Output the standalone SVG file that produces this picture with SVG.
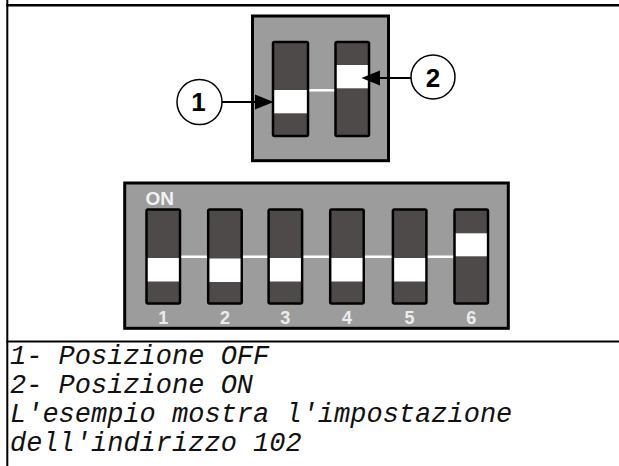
<svg xmlns="http://www.w3.org/2000/svg" width="619" height="466" viewBox="0 0 619 466">
<style>
.frame{stroke:#000;fill:none}
.box{fill:#9c9c9c;stroke:#000;stroke-width:3}
.sw{fill:#4e4a49;stroke:#000;stroke-width:2.5}
.blk{fill:#fff}
.wl{stroke:#fff;stroke-width:2.5}
.num{font-family:"Liberation Sans",Arial,sans-serif;font-weight:bold;font-size:18px;fill:#ececec;text-anchor:middle}
.call{fill:#fff;stroke:#000;stroke-width:1.5}
.ctext{font-family:"Liberation Sans",Arial,sans-serif;font-weight:bold;font-size:26px;fill:#000;text-anchor:middle}
.cap{font-family:"Liberation Mono","Courier New",monospace;font-style:italic;font-size:27px;fill:#111}
.ln{stroke:#000;stroke-width:2}
</style>
<rect width="619" height="466" fill="#fff"/>
<g id="frame">
<line class="frame" x1="7.3" y1="0" x2="7.3" y2="466" stroke-width="2"/>
<line class="frame" x1="6.3" y1="5.3" x2="619" y2="5.3" stroke-width="2.5"/>
<line class="frame" x1="6.3" y1="341.5" x2="619" y2="341.5" stroke-width="2"/>
</g>
<g id="small-switch">
<rect class="box" x="252.5" y="16" width="136" height="144.7"/>
<line class="wl" x1="308" y1="90.3" x2="336" y2="90.3"/>
<rect class="sw" x="273" y="42" width="35" height="94" rx="1.5"/>
<rect class="blk" x="274.3" y="90" width="32.5" height="23.3"/>
<rect class="sw" x="335.5" y="42" width="33.5" height="94" rx="1.5"/>
<rect class="blk" x="336.8" y="65" width="31" height="23.3"/>
</g>
<g id="callout-1">
<circle class="call" cx="199.5" cy="102" r="22.5"/>
<text class="ctext" x="198.5" y="111">1</text>
</g>
<g id="callout-2">
<circle class="call" cx="433" cy="77" r="22"/>
<text class="ctext" x="433" y="86.5">2</text>
</g>
<g id="connectors">
<line class="ln" x1="222" y1="102" x2="258" y2="102"/>
<polygon points="255,94.5 273.5,102 255,109.5" fill="#000"/>
<line class="ln" x1="411" y1="78" x2="378" y2="78"/>
<polygon points="380,70.5 361.5,78 380,85.5" fill="#000"/>
</g>
<g id="dip-switch">
<rect class="box" x="124.7" y="183" width="383.6" height="145.3"/>
<line class="wl" x1="180" y1="256.7" x2="455" y2="256.7"/>
<text x="145.5" y="205" font-family="Liberation Sans, Arial, sans-serif" font-weight="bold" font-size="19" fill="#f2f2f2">ON</text>
<g id="sw1"><rect class="sw" x="146.5" y="209.5" width="33.5" height="94" rx="1.5"/><rect class="blk" x="147.8" y="258" width="31" height="23.5"/><text class="num" x="163.3" y="324">1</text></g>
<g id="sw2"><rect class="sw" x="208.2" y="209.5" width="33.5" height="94" rx="1.5"/><rect class="blk" x="209.5" y="258.5" width="31" height="23.5"/><text class="num" x="225" y="324">2</text></g>
<g id="sw3"><rect class="sw" x="268.6" y="209.5" width="33.5" height="94" rx="1.5"/><rect class="blk" x="269.9" y="258" width="31" height="23.5"/><text class="num" x="285.3" y="324">3</text></g>
<g id="sw4"><rect class="sw" x="330.2" y="209.5" width="33.5" height="94" rx="1.5"/><rect class="blk" x="331.5" y="258" width="31" height="23.5"/><text class="num" x="347" y="324">4</text></g>
<g id="sw5"><rect class="sw" x="392.9" y="209.5" width="33.5" height="94" rx="1.5"/><rect class="blk" x="394.2" y="258" width="31" height="23.5"/><text class="num" x="409.6" y="324">5</text></g>
<g id="sw6"><rect class="sw" x="454.5" y="209.5" width="33.5" height="94" rx="1.5"/><rect class="blk" x="455.8" y="233.3" width="31" height="23"/><text class="num" x="471.3" y="324">6</text></g>
</g>
<g id="legend">
<text class="cap" x="10" y="364">1- Posizione OFF</text>
<text class="cap" x="10" y="393">2- Posizione ON</text>
<text class="cap" x="10" y="422">L'esempio mostra l'impostazione</text>
<text class="cap" x="10" y="451">dell'indirizzo 102</text>
</g>
</svg>
